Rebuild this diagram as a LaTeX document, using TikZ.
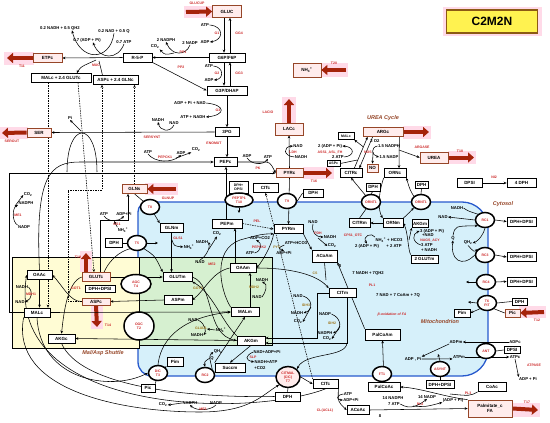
\documentclass[tikz,border=0pt]{standalone}
\usepackage{fontspec}
\setmainfont{Liberation Sans}
\usetikzlibrary{arrows.meta,shapes.geometric}
\pgfdeclarelayer{back}
\pgfdeclarelayer{mid}
\pgfsetlayers{back,mid,main}
\definecolor{bigred}{RGB}{165,35,10}
\definecolor{labred}{RGB}{205,40,40}
\definecolor{olv}{RGB}{160,120,30}
\definecolor{brn}{RGB}{150,70,40}
\definecolor{pinkf}{RGB}{255,236,236}
\definecolor{glow}{RGB}{255,218,232}
\definecolor{mitof}{RGB}{214,240,250}
\definecolor{mitob}{RGB}{40,90,205}
\definecolor{yelf}{RGB}{255,252,212}
\definecolor{grnf}{RGB}{214,240,208}
\definecolor{c2f}{RGB}{255,242,80}
\definecolor{c2b}{RGB}{140,90,20}
\newcommand{\fsz}{\fontsize{4.5}{5}\selectfont\bfseries}
\newcommand{\ftz}{\fontsize{4.2}{4.7}\selectfont\bfseries}
\newcommand{\frz}{\fontsize{3.5}{4}\selectfont\bfseries}
\tikzset{
 bx/.style={draw, line width=0.7pt, fill=white, font=\fsz, inner sep=0.6pt, minimum height=9pt, align=center},
 pbx/.style={bx, fill=pinkf, draw=brn},
 tx/.style={font=\ftz, inner sep=0.3pt, align=center},
 rx/.style={font=\frz, text=labred, inner sep=0.3pt, align=center},
 ox/.style={font=\frz, text=olv, inner sep=0.3pt, align=center},
 mc/.style={ellipse, draw, line width=1.5pt, fill=white, minimum width=19pt, minimum height=15pt, inner sep=0pt, font=\frz, text=labred, align=center},
 con/.style={-{Stealth[length=3pt,width=2.6pt]}, line width=0.55pt},
 dcon/.style={con, dash pattern=on 1.5pt off 1pt},
 ln/.style={line width=0.55pt},
 bigarr/.style={line width=4pt, draw=bigred, -{Triangle[length=6pt,width=10pt]}},
 ttl/.style={font=\fontsize{5.5}{6}\selectfont\bfseries\itshape, text=brn, inner sep=0.5pt},
 c2bx/.style={draw=c2b, line width=1.3pt, fill=c2f, minimum width=91pt, minimum height=23pt, font=\fontsize{12}{14}\selectfont\bfseries},
}
\begin{document}
\begin{tikzpicture}[x=1pt,y=-1pt]
\useasboundingbox (0,0) rectangle (550,423);
\begin{pgfonlayer}{back}
\fill[white] (0,0) rectangle (550,423);
\draw[mitob, line width=1.3pt, fill=mitof] (138,290) [rounded corners=10pt] -- (138,202) [rounded corners=26pt] -- (488,202) -- (488,376) [rounded corners=14pt] -- (138,376) [sharp corners] -- cycle;
\draw[fill=yelf, line width=0.6pt] (12,257) rectangle (139,348);
\draw[fill=grnf, line width=0.6pt] (139,257) rectangle (272,345);
\fill[glow] (443,7) rectangle (542,36);
\fill[glow] (184,6) rectangle (214,18);
\fill[glow] (4,52) rectangle (34,65);
\fill[glow] (0,127) rectangle (28,139);
\fill[glow] (318,63) rectangle (348,77);
\fill[glow] (282,97) rectangle (296,123);
\fill[glow] (403,126) rectangle (431,139);
\fill[glow] (448,151) rectangle (476,164);
\fill[glow] (145,183) rectangle (178,195);
\fill[glow] (303,167) rectangle (334,179);
\fill[glow] (519,306) rectangle (546,318);
\fill[glow] (512,403) rectangle (540,417);
\fill[glow] (80,251) rectangle (92,272);
\fill[glow] (91,305) rectangle (103,329);
\end{pgfonlayer}

% ---------- boxes
\node[c2bx] (c2) at (492,21.5) {C2M2N};
\node[pbx, minimum width=29pt, minimum height=12pt] (gluc) at (227,11.5) {GLUC};
\node[bx, minimum width=36pt] (g6p) at (227,57.5) {G6P/F6P};
\node[bx, minimum width=29pt] (r5p) at (137.5,57.5) {R-5-P};
\node[bx, minimum width=40pt] (g3p) at (227,90.5) {G3P/DHAP};
\node[bx, minimum width=24pt] (pg3) at (227,132) {3PG};
\node[pbx, minimum width=24pt] (ser) at (39,132.5) {SER};
\node[pbx, minimum width=29pt] (etpc) at (47.5,58) {ETPc};
\node[bx, minimum width=60pt] (malg) at (61,78) {MALc + 2.4 GLUTc};
\node[bx, minimum width=45pt] (aspg) at (115.5,80) {ASPc + 2.4 GLNc};
\node[pbx, minimum width=28pt, minimum height=14pt] (nh4) at (307,70) {NH\textsubscript{4}\textsuperscript{+}};
\node[pbx, minimum width=28pt, minimum height=12pt] (lacc) at (289,129) {LACc};
\node[pbx, minimum width=40pt] (argc) at (383,132) {ARGc};
\node[bx, minimum width=16pt, minimum height=7pt, line width=0.5pt, font=\frz] (malc2) at (346,136) {MALc};
\node[pbx, minimum width=28pt, minimum height=11pt] (urea) at (434,157.5) {UREA};
\node[bx, minimum width=25pt] (dpsi1) at (469.5,183) {DPSI};
\node[bx, minimum width=29pt] (dph4) at (521.5,183) {4 DPH};
\node[bx, minimum width=23pt] (pepc) at (225.5,162) {PEPc};
\node[bx, minimum width=19pt, minimum height=12pt, font=\frz] (dd1) at (238.5,187) {DPH+\\DPSI};
\node[bx, minimum width=25pt] (citc1) at (265.5,188) {CITc};
\node[pbx, minimum width=25pt] (glns) at (134.5,189) {GLNs};
\node[pbx, minimum width=27pt] (pyrc) at (289.5,173) {PYRc};
\node[bx, minimum width=20pt, minimum height=8pt] (dph9) at (313,193) {DPH};
\node[bx, minimum width=13pt, minimum height=6pt, line width=0.5pt, font=\frz] (aspc2) at (333.5,163.5) {ASPc};
\node[bx, minimum width=22pt] (citrc) at (351,173) {CITRc};
\node[pbx, minimum width=11pt, minimum height=8pt] (no) at (372.5,168) {NO};
\node[bx, minimum width=22pt] (ornc) at (395,173) {ORNc};
\node[bx, minimum width=14pt, minimum height=8pt] (dpho1) at (373,187) {DPH};
\node[bx, minimum width=13pt, minimum height=7pt] (dpho2) at (421.5,185) {DPH};
\node[bx, minimum width=21pt] (citrm) at (359.5,223) {CITRm};
\node[bx, minimum width=20pt] (ornm) at (393,223) {ORNm};
\node[bx, minimum width=16pt, minimum height=8pt] (akgm2) at (420,223.5) {AKGm};
\node[bx, minimum width=27pt, minimum height=8pt] (glutm2) at (424.5,259) {2 GLUTm};
\node[bx, minimum width=29pt] (dd2) at (521.5,221.5) {DPH+DPSI};
\node[bx, minimum width=29pt] (dd3) at (521.5,257) {DPH+DPSI};
\node[bx, minimum width=29pt] (dd4) at (521.5,281.5) {DPH+DPSI};
\node[bx, minimum width=15pt, minimum height=7pt] (dph6) at (519.5,301.5) {DPH};
\node[bx, minimum width=16pt, minimum height=8pt] (pim2) at (462,313) {Pim};
\node[pbx, minimum width=15pt, minimum height=8pt] (pic2) at (512.5,313) {Pic};
\node[bx, minimum width=16pt, minimum height=7pt] (dpsi2) at (512,350) {DPSI};
\node[bx, minimum width=28pt, minimum height=8pt] (dd5) at (440,384.5) {DPH+DPSI};
\node[bx, minimum width=28pt] (coac) at (492,387) {CoAc};
\node[pbx, minimum width=44pt, minimum height=17pt] (palfa) at (490,408.5) {Palmitate\_c\\FA};
\node[bx, minimum width=32pt] (palcoac) at (384,387) {PalCoAc};
\node[bx, minimum width=35pt, minimum height=11pt] (palcoam) at (382.5,334.5) {PalCoAm};
\node[bx, minimum width=27pt] (citm) at (342.5,293) {CITm};
\node[bx, minimum width=25pt] (citc2) at (325.5,384) {CITc};
\node[bx, minimum width=25pt] (dphc) at (287.5,396.5) {DPH};
\node[bx, minimum width=22pt] (acoac) at (358,410) {ACoAc};
\node[bx, minimum width=25pt, minimum height=12pt] (acoam) at (324.5,256) {ACoAm};
\node[bx, minimum width=29pt] (pyrm) at (288.5,229) {PYRm};
\node[bx, minimum width=30pt] (pepm) at (227,223.5) {PEPm};
\node[bx, minimum width=26pt] (oaam) at (243,268) {OAAm};
\node[bx, minimum width=23pt] (glnm) at (171.5,228) {GLNm};
\node[bx, minimum width=29pt] (glutm) at (177.5,277) {GLUTm};
\node[bx, minimum width=28pt] (aspm) at (178,300) {ASPm};
\node[bx, minimum width=28pt] (malm) at (245,312) {MALm};
\node[bx, minimum width=28pt] (akgm) at (251,340.5) {AKGm};
\node[bx, minimum width=30pt] (succm) at (230,367.5) {Succm};
\node[bx, minimum width=16pt] (pim1) at (175,361.5) {Pim};
\node[bx, minimum width=14pt, minimum height=8pt] (pic1) at (148,388) {Pic};
\node[bx, minimum width=17pt] (dph5) at (114,243) {DPH};
\node[bx, minimum width=25pt] (oaac) at (39.5,275) {OAAc};
\node[pbx, minimum width=28pt] (glutc) at (96,277) {GLUTc};
\node[bx, minimum width=30pt, minimum height=7pt] (dd6) at (100,288.5) {DPH+DPSI};
\node[pbx, minimum width=28pt, minimum height=7pt] (aspc) at (96,301.5) {ASPc};
\node[bx, minimum width=26pt] (malc) at (37,312.5) {MALc};
\node[bx, minimum width=27pt] (akgc) at (61.5,338.5) {AKGc};

% ---------- transporters / complexes
\node[mc] (t8) at (150,207) {T8};
\node[mc, minimum width=28pt, minimum height=14pt] (pept) at (239,200) {PEPTP1\\T10};
\node[mc] (t9) at (287,201) {T9};
\node[mc] (ornt1) at (371,202) {ORNT1};
\node[mc] (ornt2) at (421,202) {ORNT1};
\node[mc] (rc1) at (485,220) {RC1};
\node[mc] (rc3) at (485,255) {RC3};
\node[mc] (rc4) at (486,282) {RC4};
\node[mc] (t6) at (487,303) {T6\\PiT};
\node[mc] (ant) at (486,351) {ANT};
\node[mc] (asynt) at (440,369) {ASYNT};
\node[mc] (ft1) at (382,374) {FT1};
\node[mc, fill=pinkf, minimum width=24pt, minimum height=21pt] (citmal) at (288,377) {CITMAL\\(CIC)\\T7};
\node[mc] (rc2) at (205,375) {RC2};
\node[mc] (dic) at (158,373) {DIC\\T3};
\node[mc] (t5) at (137,243) {T5};
\node[mc, minimum width=30pt, minimum height=19pt] (agc) at (136,284) {AGC\\T4};
\node[mc, minimum width=30pt, minimum height=28pt] (ogc) at (139,326) {OGC\\T2};

% ---------- titles
\node[ttl] (tUC) at (383,118) {UREA Cycle};
\node[ttl] (tCy) at (503,204) {Cytosol};
\node[ttl] (tMi) at (440,322) {Mitochondrion};
\node[ttl] (tMA) at (103,353) {Mal/Asp Shuttle};
\node[rx, font=\frz\itshape] (tbo) at (392,315) {β-oxidation of FA};

% ---------- black labels
\node[tx] (xATP1) at (205,25) {ATP};
\node[tx] (xADP1) at (205,42) {ADP};
\node[tx] (xNADPH1) at (166,40) {2 NADPH};
\node[tx] (xNADP1) at (190,43) {2 NADP};
\node[tx] (xCO21) at (155,47) {CO\textsubscript{2}};
\node[tx] (xATP2) at (209,66) {ATP};
\node[tx] (xADP2) at (209,80) {ADP};
\node[tx] (xG3a) at (190,103) {ADP + Pi + NAD};
\node[tx] (xG3b) at (193,117) {ATP + NADH};
\node[tx] (xNADH1) at (158,120) {NADH};
\node[tx] (xNAD1) at (174,123) {NAD};
\node[tx] (xM1) at (60,28) {0.2 NADH + 0.5 QH2};
\node[tx] (xM2) at (114,31) {0.2 NAD + 0.5 Q};
\node[tx] (xM3) at (87,40) {0.7 (ADP + Pi)};
\node[tx] (xM4) at (124,42) {0.7 ATP};
\node[tx] (xPi) at (70,118) {Pi};
\node[tx] (xATP3) at (148,152) {ATP};
\node[tx] (xADP3) at (181,153) {ADP};
\node[tx] (xCO22) at (196,150) {CO\textsubscript{2}};
\node[tx] (xADP4) at (247,156) {ADP};
\node[tx] (xATP4) at (268,157) {ATP};
\node[tx] (xNAD2) at (298,146) {NAD};
\node[tx] (xNADH2) at (301,157) {NADH};
\node[tx] (xU1) at (330,146) {2 (ADP + Pi)};
\node[tx] (xU2) at (338,157) {2 ATP};
\node[tx] (xU3) at (375,141) {2 O2};
\node[tx] (xU4) at (389,146) {1.5 NADPH};
\node[tx] (xU5) at (389,157) {1.5 NADP};
\node[tx] (xGS1) at (104,214) {ATP};
\node[tx] (xGS2) at (124,214) {ADP+Pi};
\node[tx] (xGS3) at (123,230) {NH\textsubscript{4}\textsuperscript{+}};
\node[tx] (xCO23) at (28,195) {CO\textsubscript{2}};
\node[tx] (xNADPH3) at (26,203) {NADPH};
\node[tx] (xNADP3) at (24,227) {NADP};
\node[tx] (xNH42) at (189,247) {NH\textsubscript{4}\textsuperscript{+}};
\node[tx] (xCO24) at (217,234) {CO\textsubscript{2}};
\node[tx] (xNADH4) at (202,242) {NADH};
\node[tx] (xNAD4) at (200,262) {NAD};
\node[tx] (xPK2a) at (260,238) {ADP+CO2};
\node[tx] (xPK2b) at (250,253) {ATP};
\node[tx] (xNADH5) at (262,280) {NADH};
\node[tx] (xNAD6) at (313,222) {NAD};
\node[tx] (xNADH6) at (330,237) {NADH};
\node[tx] (xCO26) at (332,246) {CO\textsubscript{2}};
\node[tx] (xPYa) at (296,243) {ATP+HCO3};
\node[tx] (xPYb) at (284,253) {ADP+Pi};
\node[tx] (xC1) at (389,240) {NH\textsubscript{4}\textsuperscript{+} + HCO3};
\node[tx] (xC2) at (394,246) {+ 2 ATP};
\node[tx] (xC3) at (367,246) {2 (ADP + Pi)};
\node[tx] (xN1) at (432,231) {3 (ADP + Pi)};
\node[tx] (xN2) at (428,235.5) {+NAD};
\node[tx] (xN3) at (427,245) {3 ATP};
\node[tx] (xN4) at (429,250) {+ NADH};
\node[tx] (xR1) at (457,208) {NADH};
\node[tx] (xR2) at (443,217) {NAD};
\node[tx] (xQ) at (453,238) {Q};
\node[tx] (xQH2) at (468,243) {QH\textsubscript{2}};
\node[tx] (xADPm) at (456,342) {ADPm};
\node[tx] (xADPc) at (515,342) {ADPc};
\node[tx] (xATPm) at (459,357) {ATPm};
\node[tx] (xATPc) at (515,357) {ATPc};
\node[tx] (xADPPi) at (528,379) {ADP + Pi};
\node[tx] (xADPPi2) at (413,359) {ADP , Pi};
\node[tx] (xB1) at (368,273) {7 NADH + 7QH2};
\node[tx] (xB8) at (340,266) {8};
\node[tx] (xB2) at (398,295) {7 NAD + 7 CoAm + 7Q};
\node[tx] (xI1) at (298,296) {NAD};
\node[tx] (xI2) at (297,313) {NADH};
\node[tx] (xI3) at (298,322) {CO\textsubscript{2}};
\node[tx] (xI4) at (325,314) {NADP};
\node[tx] (xI5) at (325,333) {NADPH};
\node[tx] (xI6) at (327,339) {CO\textsubscript{2}};
\node[tx] (xL1) at (348,394) {ATP};
\node[tx] (xL2) at (351,400) {ADP+Pi};
\node[tx] (xF1) at (393,398) {14 NADPH};
\node[tx] (xF2) at (394,404) {7 ATP};
\node[tx] (xF3) at (427,397) {14 NADP};
\node[tx] (xF4) at (453,400) {(ADP + Pi)};
\node[tx] (xF8) at (380,416) {8};
\node[tx] (xS1) at (267,352) {NAD+ADP+Pi};
\node[tx] (xS2) at (266,362) {NADH+ATP};
\node[tx] (xS3) at (260,368) {+CO2};
\node[tx] (xQH2b) at (218,352) {QH\textsubscript{2}};
\node[tx] (xQb) at (212,358) {Q};
\node[tx] (xD1) at (193,320) {NAD};
\node[tx] (xD2) at (197,335) {NADH};
\node[tx] (xD3) at (221,330) {NH\textsubscript{4}\textsuperscript{+}};
\node[tx] (xNAD7) at (257,297) {NAD};
\node[tx] (xCO27) at (163,405) {CO\textsubscript{2}};
\node[tx] (xNADPH7) at (190,403) {NADPH};
\node[tx] (xNADP7) at (216,403) {NADP};
\node[tx] (xNADH8) at (22,287) {NADH};
\node[tx] (xNAD8) at (20,302) {NAD};

% ---------- red labels
\node[rx] (rGU) at (197,3) {GLUCUP};
\node[rx] (rG1) at (217,33) {G1};
\node[rx] (rGG4) at (239,33) {GG4};
\node[rx] (rPP1) at (183,52) {PP1};
\node[rx] (rPP2) at (181,67) {PP2};
\node[rx] (rG2) at (217,73) {G2};
\node[rx] (rGG3) at (239,73) {GG3};
\node[rx] (rG3) at (218,110) {G3};
\node[rx] (rEN) at (214,143) {ENOMUT};
\node[rx] (rSS) at (152,137) {SERSYNT};
\node[rx] (rSO) at (12,141) {SEROUT};
\node[rx] (rT11) at (22,66) {T11};
\node[rx] (rMUC) at (96,65) {MUC};
\node[rx] (rT20) at (334,63) {T20};
\node[rx] (rLAC) at (268,112) {LACIO};
\node[rx] (rLDH) at (293,152) {LDH};
\node[rx] (rASS) at (330,152) {ASS1\_ASL\_FH};
\node[rx] (rNOS) at (368,152) {NOS};
\node[rx] (rARG) at (422,147) {ARGASE};
\node[rx] (rT18) at (460,151) {T18};
\node[rx] (rNI2) at (494,177) {NI2};
\node[rx] (rPC1) at (165,157) {PEPCK1};
\node[rx] (rPK) at (258,168) {PK};
\node[rx] (rGUP) at (168,198) {GLNUP};
\node[rx] (rT16) at (314,181) {T16};
\node[rx] (rGS1) at (117,224) {GS1};
\node[rx] (rME1) at (18,215) {ME1};
\node[rx] (rGLS) at (178,238) {GLS1};
\node[rx] (rME2) at (212,264) {ME2};
\node[rx] (rPC2) at (259,247) {PEPCK2};
\node[rx] (rPEL) at (257,221) {PEL};
\node[rx] (rPDH) at (318,233) {PDH};
\node[ox] (rPYC) at (277,247) {PYC};
\node[ox] (rCS) at (315,273) {CS};
\node[rx] (rCPS) at (353,235) {CPS1\_OTC};
\node[rx] (rNAGS) at (430,240.5) {NAGS\_ACY};
\node[rx] (rPL1) at (372,285) {PL1};
\node[ox] (rIDH3) at (306,305) {IDH3};
\node[ox] (rIDH2) at (332,323.5) {IDH2};
\node[ox] (rMDH2) at (254,287) {MDH2};
\node[ox] (rGOT2) at (198,288) {GOT2};
\node[ox] (rGLUD) at (201,328) {GLUD1};
\node[rx] (rSLP) at (253,357) {SLP};
\node[rx] (rCL) at (325,411) {CL(ACL1)};
\node[rx] (rPL2) at (420,404.5) {PL2};
\node[rx] (rPL3) at (468,393) {PL3};
\node[rx] (rATPASE) at (534,365) {ATPASE};
\node[rx] (rT17) at (527,402) {T17};
\node[rx] (rT12) at (537,320) {T12};
\node[rx] (rT19) at (78,257) {T19};
\node[rx] (rT14) at (108,325) {T14};
\node[rx] (rMDH1) at (31,294) {MDH1};
\node[rx] (rGOT1) at (76,288) {GOT1};
\node[rx] (rME3) at (203,409) {ME3};

% ---------- connectors
\begin{pgfonlayer}{mid}
\coordinate (a1) at (186,12);   \draw[bigarr] (a1) -- (gluc.west);
\coordinate (a2) at (7,58);     \draw[bigarr] (etpc.west) -- (a2);
\coordinate (a3) at (2,133);    \draw[bigarr] (ser.west) -- (a3);
\coordinate (a4) at (346,70);   \draw[bigarr] (a4) -- (nh4.east);
\coordinate (a5) at (289,99);   \draw[bigarr] (lacc.north) -- (a5);
\coordinate (a6) at (429,132);  \draw[bigarr] (argc.east) -- (a6);
\coordinate (a7) at (474,157.5);\draw[bigarr] (urea.east) -- (a7);
\coordinate (a8) at (176,189);  \draw[bigarr] (a8) -- (glns.east);
\coordinate (a9) at (332,173);  \draw[bigarr] (pyrc.east) -- (a9);
\coordinate (a10) at (544,312); \draw[bigarr] (a10) -- (pic2.east);
\coordinate (a11) at (538,410); \draw[bigarr] (palfa.east) -- (a11);
\coordinate (a12) at (86,253);  \draw[bigarr] ([xshift=-10pt]glutc.north) -- (a12);
\coordinate (a13) at (97,327);  \draw[bigarr] (aspc.south) -- (a13);

\draw[con] ([xshift=-3pt]gluc.south) -- ([xshift=-3pt]g6p.north);
\draw[con] ([xshift=3pt]g6p.north) -- ([xshift=3pt]gluc.south);
\draw[con] ([xshift=-3pt]g6p.south) -- ([xshift=-3pt]g3p.north);
\draw[con] ([xshift=3pt]g3p.north) -- ([xshift=3pt]g6p.south);
\draw[con] (g3p.south) -- (pg3.north);
\draw[con] (pg3.south) -- (pg3.south |- pepc.north);
\draw[con] (g6p.west) -- (r5p.east);
\draw[con] (r5p.south east) -- (g3p.west);
\draw[con] (r5p.west) -- (etpc.east);
\draw[con] (pg3.west) -- (ser.east);
\draw[con] (pepc.east) -- (262,162) .. controls (270,162) .. (pyrc.west);
\draw[con] (pyrc.north) -- (lacc.south);
\draw[con] (pyrc.south) -- (pyrm.north);
\draw[ln] (dph9.west) -- (t9.east);
\draw[con] ([xshift=-1pt]pepm.north) -- ([xshift=0.5pt]pepc.south);
\draw[ln] (dd1.south) -- (pept.north);
\coordinate (pe1) at (239,213); \draw[con] (pept.south) -- (pe1);
\draw[con] (oaac.north) .. controls (35,175) and (50,162) .. (80,162) -- (pepc.west);
\coordinate (me1) at (9,173);
\draw[con] (malc.west) -| (me1) -- (pyrc.west |- me1);
\draw[dcon] (pepm.east) -- (pyrm.west);
\draw[dcon] (citc2.north west) -- (citc1.south);

\draw[con] (xATP1.east) .. controls (224,26) and (224,40) .. (xADP1.east);
\draw[con] (xATP2.east) .. controls (224,67) and (224,79) .. (xADP2.east);
\draw[con] (xG3a.east) .. controls (226,105) and (226,115) .. (xG3b.east);
\draw[con] (xNADP1.south) .. controls (186,56) and (172,56) .. (xNADPH1.south);
\draw[con] (174,53) .. controls (165,55) .. (xCO21.south east);
\draw[con] (xNAD1.south) .. controls (170,133) and (160,131) .. (xNADH1.south);
\draw[con] (xM2.south) .. controls (110,62) and (80,62) .. ([xshift=12pt]xM1.south);
\draw[con] (xM4.south) .. controls (118,60) and (100,60) .. ([xshift=6pt]xM3.south);
\draw[con] (96,60) .. controls (88,64) and (80,66) .. ([xshift=16pt]malg.north);
\draw[ln] ([xshift=-13pt]aspg.north) -- (99,61);
\draw[con] (xATP3.south) .. controls (155,163) and (172,163) .. (xADP3.south);
\draw[con] (176,158) -- (xCO22.south west);
\draw[con] (xADP4.south) .. controls (252,165) and (263,165) .. (xATP4.south);
\draw[con] (xNADH2.west) .. controls (283,156) and (283,147) .. (xNAD2.west);
\draw[con] (xU2.east) .. controls (355,156) and (355,147) .. (xU1.east);
\draw[con] (xU4.west) .. controls (371,147) and (371,155) .. (xU5.west);
\draw[con] (xGS1.south) .. controls (108,222) and (118,222) .. (xGS2.south);
\draw[con] (xGS3.north west) -- (114,221);
\draw[con] (xNADP3.north west) .. controls (12,222) and (12,208) .. (xNADPH3.south west);
\draw[con] (15,206) -- (xCO23.west);
\draw[con] (xNADH8.east) .. controls (33,291) and (32,299) .. (xNAD8.east);
\draw[ln] (67,172) .. controls (67,120) and (97,120) .. (97,172);
\draw[con] (81,131) -- (xPi.south);

\draw[dcon] ([xshift=-13pt]malg.south) -- ([xshift=11pt]malc.north);
\draw[dcon] ([xshift=17pt]malg.south) -- ([xshift=-2pt]glutc.north);
\draw[dcon] (aspc.west) -- (68,301.5) -- (68,190) -- (102,190) -- ([xshift=-13.5pt]aspg.south);
\draw[dcon] (glns.north) -- (glns.north |- aspg.south);

\coordinate (gsA) at (128,220);
\draw[con] ([xshift=4pt]glutc.north) |- (gsA) -- (gsA |- glns.south);
\draw[con] (glns.south) -- (t8.center) -- (glnm.north west);
\draw[ln] (dph5.east) -- (t5.west);
\draw[ln] ([xshift=8pt]glutc.north) .. controls (112,255) and (125,250) .. (t5.south west);
\coordinate (t5e) at (158,243); \draw[con] (t5.east) -- (t5e);
\draw[con] (t5.south east) .. controls (155,256) .. (glutm.north west);

\draw[con] (glutc.east) -- (glutm.west);
\draw[con] (aspm.west) -- (aspc.east);
\draw[con] (malc.east) -- (malm.west);
\draw[con] (akgm.west) -- (akgc.east);
\draw[con] (oaac.south) -- (oaac.south |- malc.north);
\draw[con] (aspc.west) .. controls (70,302) and (62,285) .. (oaac.east);
\draw[con] (glutc.west) .. controls (68,282) and (64,310) .. (akgc.north);
\draw[ln] (pic1.north east) -- (dic.center);
\draw[con] (dic.center) -- (pim1.south west);
\draw[con] (dic.north) .. controls (160,345) and (175,318) .. (malm.west);

\draw[con] (glnm.south) -- (glnm.south |- glutm.north);
\draw[con] (172,240) .. controls (174,246) .. (xNH42.west);
\draw[con] (oaam.west) .. controls (212,272) and (205,290) .. (aspm.east);
\draw[con] (akgm.north west) .. controls (222,322) and (212,292) .. (glutm.south east);
\draw[con] (glutm.east) .. controls (215,285) and (205,335) .. (akgm.west);
\draw[con] (xD1.east) .. controls (206,324) and (206,332) .. (xD2.east);
\draw[con] (xD3.west) -- (207,329);
\draw[con] ([xshift=5pt]malm.north) -- ([xshift=5pt]malm.north |- oaam.south);
\draw[con] (xNAD7.east) .. controls (266,292) and (268,284) .. (xNADH5.south);
\draw[con] ([xshift=-8pt]oaam.north) -- ([xshift=-8pt]oaam.north |- pepm.south);
\draw[con] (xPK2b.east) .. controls (262,251) and (262,243) .. ([xshift=-4pt]xPK2a.south);
\draw[con] (malm.north west) .. controls (220,290) and (212,250) .. (240,240) .. controls (262,234) .. (pyrm.south west);
\draw[con] (xNAD4.north) .. controls (208,255) and (210,246) .. (xNADH4.east);
\draw[con] (209,249) -- (xCO24.south);
\draw[con] (pyrm.south west) .. controls (272,245) and (262,262) .. (oaam.east);
\draw[con] (xPYa.south west) .. controls (278,248) .. (xPYb.north);
\draw[con] (pyrm.south east) -- (acoam.north west);
\draw[con] (xNAD6.south) .. controls (311,232) and (316,237) .. (xNADH6.west);
\draw[con] (318,238) -- (xCO26.west);
\draw[con] (oaam.east) .. controls (300,268) and (320,278) .. (citm.north west);
\draw[ln] (acoam.south) .. controls (325,272) .. (326,280);
\draw[con] (palcoam.north west) -- (acoam.south east);
\draw[con] (palcoac.north) -- (palcoam.south);
\coordinate (i3) at (317,338);
\draw[con] (citm.west) -| (i3) -- (i3 -| akgm.east);
\coordinate (i2) at (347,343);
\draw[con] ([xshift=4.5pt]citm.south) -- (i2) -- (i2 -| akgm.east);
\draw[con] (xI1.east) .. controls (313,299) and (313,310) .. (xI2.east);
\draw[con] (311,307) -- (xI3.east);
\draw[con] (xI4.east) .. controls (342,318) and (342,330) .. (xI5.east);
\draw[con] (340,326) -- (xI6.east);
\draw[con] (akgm.south) -- (succm.north);
\draw[con] (xS1.west) .. controls (245,356) and (245,360) .. (xS2.west);
\draw[con] (succm.north west) -- (malm.south);
\draw[con] (rc2.north east) .. controls (209,356) .. (xQH2b.west);
\draw[con] (xQb.west) .. controls (204,362) .. (rc2.north);

\draw[con] (i2) .. controls (346,358) and (305,352) .. (citmal.north east);
\draw[con] (citmal.east) -- (citc2.west);
\draw[ln] (citmal.south) -- (dphc.north);
\draw[con] (citc2.south east) .. controls (338,402) .. (acoac.west);
\draw[con] (xL1.west) .. controls (336,395) and (336,400) .. (xL2.west);
\draw[con] (acoac.east) -- (palfa.west);
\draw[con] (xF2.east) .. controls (410,410) and (418,406) .. (xF3.south);
\draw[con] (413,406) .. controls (425,407) .. (xF4.south west);
\draw[con] (palfa.north west) .. controls (445,397) and (420,388) .. (palcoac.east);
\draw[ln] (coac.south west) .. controls (470,396) .. (450,394);

\draw[con] (citrm.north) -- (ornt1.center) -- (citrc.south);
\draw[con] (ornc.south west) .. controls (378,195) and (378,210) .. (ornm.north west);
\draw[con] (ornm.north east) .. controls (410,212) .. (ornt2.south west);
\draw[con] (ornt2.north west) .. controls (410,190) .. (ornc.south east);
\draw[ln] (dpho1.south) -- (ornt1.north);
\draw[ln] (dpho2.south) -- (ornt2.north);
\draw[con] (ornm.west) -- (citrm.east);
\draw[con] (xC1.north west) .. controls (372,232) and (362,236) .. (xC3.north);
\draw[con] ([xshift=-8pt]citrc.north east) -- ([xshift=5pt]argc.south west);
\draw[con] ([xshift=10pt]argc.south west) -- ([xshift=-3pt]citrc.north east);
\draw[ln] (aspc2.east) -- (357.5,160);
\draw[con] (363.5,147) -- (malc2.south east);
\draw[con] (373,152) -- (no.north);
\draw[con] ([xshift=-4pt]argc.south east) -- ([xshift=4pt]ornc.north);
\coordinate (ag) at (399,150); \draw[con] (ag) -- (urea.west);
\draw[con] (glutm2.north west) .. controls (408,250) and (408,232) .. (ornm.east);
\coordinate (ng) at (409,240); \draw[con] (ng) -- (akgm2.south west);
\draw[con] (xN3.west) .. controls (412,242) and (412,234) .. (xN1.west);

\draw[con] (dpsi1.east) -- (dph4.west);
\draw[con] (rc1.east) -- (dd2.west);
\draw[con] (rc3.east) -- (dd3.west);
\draw[con] (rc4.east) -- (dd4.west);
\draw[con] (rc1.west) -- (xR2.east);
\draw[ln] (xR1.east) .. controls (468,211) .. (rc1.north west);
\draw[con] (rc1.south) .. controls (482,238) and (476,242) .. (xQH2.east);
\draw[con] (xQH2.south) .. controls (474,252) .. (rc3.north west);
\draw[con] (rc3.west) .. controls (462,268) and (450,260) .. (xQ.south);
\draw[con] (xQ.north) .. controls (455,226) .. (rc1.south west);
\coordinate (r4w) at (466,282); \draw[con] (rc4.west) -- (r4w);
\coordinate (t6w) at (468,302); \draw[con] (t6.west) -- (t6w);
\draw[con] (t6.south west) -- (pim2.east);
\draw[ln] (pic2.west) -- (t6.south east);
\draw[ln] (dph6.west) -- (t6.east);
\draw[con] (xADPc.west) -- (xADPm.east);
\draw[con] (xATPm.east) -- (xATPc.west);
\draw[ln] (ant.east) -- (dpsi2.west);
\draw[con] (xATPc.south) -- (xADPPi.north west);
\draw[con] (xADPm.south west) -- (xADPPi2.north east);
\draw[con] (xADPPi2.east) -- (xATPm.south west);
\coordinate (asu) at (438,354); \draw[con] (asynt.north) -- (asu);
\draw[ln] (asynt.south) -- (dd5.north);

\draw[con] (citc2.south) .. controls (250,418) and (5,415) .. (oaac.west);
\draw[con] (malc.south west) .. controls (10,390) and (120,412) .. (200,412) .. controls (250,412) and (262,395) .. (citmal.south west);
\draw[con] (malc.south) .. controls (40,380) and (110,392) .. (dic.west);
\draw[ln] (akgc.south) .. controls (80,385) and (180,398) .. (dphc.west);
\draw[con] (xNADP7.south) .. controls (210,411) and (196,411) .. (xNADPH7.south);
\draw[con] (xNADPH7.west) -- (xCO27.east);
\end{pgfonlayer}
\end{tikzpicture}
\end{document}
